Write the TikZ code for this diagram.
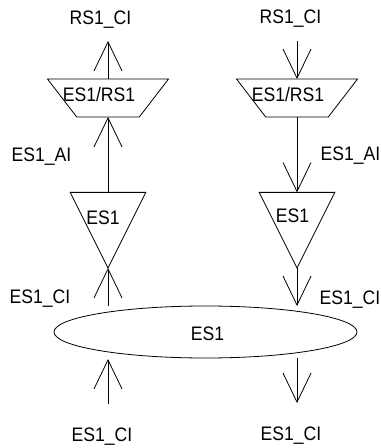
\documentclass[tikz,border=0pt]{standalone}
\usepackage{fontspec}
\setmainfont[FakeStretch=0.9]{Liberation Sans}
\usetikzlibrary{
  shapes.geometric,
  arrows.meta,
}
\tikzset{
  lbl/.style={anchor=base,inner sep=0pt,outer sep=0pt,font=\fontsize{14.6bp}{16bp}\selectfont},
  mux/.style={draw,trapezium,shape border rotate=180,trapezium stretches=true,trapezium left angle=65,trapezium right angle=65,minimum width=90.75pt,minimum height=28.5pt,inner sep=1pt,outer sep=0pt},
  amp/.style={draw,isosceles triangle,isosceles triangle apex angle=53.4,isosceles triangle stretches=true,shape border rotate=-90,minimum width=56.7pt,minimum height=56.7pt,inner sep=1pt,outer sep=0pt,anchor=apex},
  flow/.style={-{Straight Barb[length=21.75pt,width=21pt]},line width=.6pt},
}
\begin{document}
\begin{tikzpicture}[x=.75pt,y=-.75pt,line width=.6pt]
\useasboundingbox (0,0) rectangle (380,448);
\node[mux] (muxL) at (108,98) {};
\node[mux] (muxR) at (297,98) {};
\node[amp] (ampL) at (108,268) {};
\node[amp] (ampR) at (297,268) {};
\node[draw,ellipse,minimum width=227.25pt,minimum height=39pt,inner sep=0pt,outer sep=0pt] (bus) at (205.5,332) {};
\coordinate (outL) at (108,41);
\coordinate (inR) at (297,41);
\coordinate (busInL) at (108,306);
\coordinate (busInR) at (297,306);
\coordinate (feedL) at (108,404);
\coordinate (feedLend) at (108,359);
\coordinate (feedR) at (297,358);
\coordinate (feedRend) at (297,403);
\draw[flow] (muxL.north) -- (outL);
\draw[flow] (ampL.north) -- (muxL.south);
\draw[flow] (busInL) -- (ampL.apex);
\draw[flow] (feedL) -- (feedLend);
\draw[flow] (inR) -- (muxR.north);
\draw[flow] (muxR.south) -- (ampR.north);
\draw[flow] (ampR.apex) -- (busInR);
\draw[flow] (feedR) -- (feedRend);
\node[lbl] (topL) at (100.5,25) {RS1\_CI};
\node[lbl] (topR) at (290.5,24) {RS1\_CI};
\node[lbl] (muxLtxt) at (99,101.7) {ES1/RS1};
\node[lbl] (muxRtxt) at (288,101.7) {ES1/RS1};
\node[lbl] (aiL) at (41.5,162) {ES1\_AI};
\node[lbl] (aiR) at (350.5,160.5) {ES1\_AI};
\node[lbl] (ampLtxt) at (103,224) {ES1};
\node[lbl] (ampRtxt) at (292.5,223) {ES1};
\node[lbl] (ciL) at (40,303) {ES1\_CI};
\node[lbl] (ciR) at (350,304) {ES1\_CI};
\node[lbl] (bustxt) at (207.5,340.5) {ES1};
\node[lbl] (botL) at (102,441) {ES1\_CI};
\node[lbl] (botR) at (291,440) {ES1\_CI};
\end{tikzpicture}
\end{document}
